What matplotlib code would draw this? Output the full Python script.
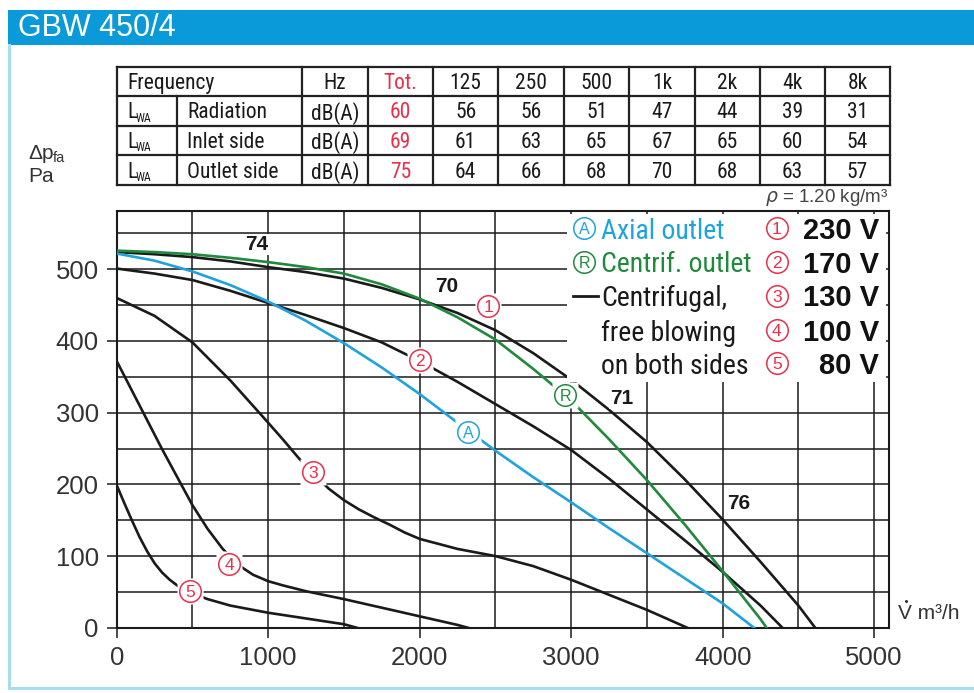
import matplotlib
matplotlib.use("Agg")
import matplotlib.pyplot as plt
from matplotlib.patches import Rectangle
from matplotlib.ticker import MultipleLocator
from matplotlib import font_manager as fm

plt.rcParams['font.family'] = ['Liberation Sans', 'DejaVu Sans']

# ---- pick a narrow font if one is installed
_avail = {_f.name for _f in fm.fontManager.ttflist}
NARROW = {'family': ['Liberation Sans', 'DejaVu Sans']}
NARROW_OK = False
for _name in ['Liberation Sans Narrow', 'Arial Narrow', 'Roboto Condensed',
              'Archivo Narrow', 'Open Sans Condensed']:
    if _name in _avail:
        NARROW = {'family': [_name, 'Liberation Sans', 'DejaVu Sans']}
        NARROW_OK = True
        break

# ------------------------------------------------------------------ data
title = "GBW 450/4"
col_header = ["125", "250", "500", "1k", "2k", "4k", "8k"]
row_names = ["Radiation", "Inlet side", "Outlet side"]
tot_vals = [60, 69, 75]
band_vals = [
    [56, 56, 51, 47, 44, 39, 31],
    [61, 63, 65, 67, 65, 60, 54],
    [64, 66, 68, 70, 68, 63, 57],
]

# free blowing (black) curves, 230/170/130/100/80 V
c1_x = [0, 250, 500, 750, 1000, 1250, 1500, 1750, 2000, 2250, 2500, 2750, 3000, 3250, 3500, 3750, 4000, 4250, 4500, 4611]
c1_y = [524, 521, 517, 511, 503, 496, 487, 474, 458, 439, 415, 383, 346, 304, 259, 207, 151, 92, 31, 0]
c2_x = [0, 250, 500, 750, 1000, 1250, 1500, 1750, 2000, 2250, 2500, 2750, 3000, 3250, 3500, 3750, 4000, 4250, 4395]
c2_y = [501, 494, 485, 470, 453, 436, 418, 398, 372, 343, 312, 281, 248, 208, 165, 122, 78, 31, 0]
c3_x = [0, 250, 500, 750, 1000, 1100, 1200, 1300, 1400, 1500, 1600, 1700, 1800, 1900, 2000, 2250, 2500, 2750, 3000, 3250, 3500, 3767]
c3_y = [460, 435, 398, 345, 286, 262, 237, 214, 194, 178, 165, 154, 144, 133, 124, 110, 100, 86, 67, 46, 25, 0]
c4_x = [0, 100, 200, 300, 400, 500, 600, 700, 800, 900, 1000, 1100, 1250, 1500, 1750, 2000, 2250, 2320]
c4_y = [372, 331, 290, 249, 210, 171, 138, 110, 88, 74, 65, 59, 51, 40, 28, 16, 4, 0]
c5_x = [0, 50, 100, 150, 200, 250, 300, 350, 400, 500, 600, 750, 1000, 1250, 1500, 1586]
c5_y = [199, 174, 150, 127, 107, 90, 77, 67, 59, 48, 40, 31, 21, 13, 5, 0]
# axial outlet (blue)
ax_x = [0, 250, 500, 750, 1000, 1250, 1500, 1750, 2000, 2250, 2500, 2750, 3000, 3250, 3500, 3750, 4000, 4207]
ax_y = [522, 512, 497, 478, 455, 428, 397, 363, 326, 286, 247, 210, 175, 139, 104, 69, 34, 0]
# centrifugal outlet (green)
cf_x = [0, 250, 500, 750, 1000, 1250, 1500, 1750, 2000, 2250, 2500, 2750, 3000, 3250, 3500, 3750, 4000, 4250, 4290]
cf_y = [526, 524, 521, 516, 510, 503, 494, 479, 459, 433, 402, 361, 317, 263, 206, 144, 79, 12, 0]

curve_tags = ["1", "2", "3", "4", "5"]
curve_tag_pos = [(2451, 449), (2002, 373), (1297, 217), (741, 89), (484, 51)]
voltages = ["230 V", "170 V", "130 V", "100 V", "80 V"]
sound_labels = ["74", "70", "71", "76"]
sound_pos = [(924, 534), (2178, 476), (3333, 320), (4103, 174)]
legend_left = ["Axial outlet", "Centrif. outlet", "Centrifugal,", "free blowing", "on both sides"]

BLUE = '#1fa3e0'
GREEN = '#1f8a3c'
RED = '#e8304a'
DARK = '#1a1a1a'

W, H = 974, 693
fig = plt.figure(figsize=(W / 100, H / 100), dpi=100)

# ------------------------------------------------------------------ main axes
L, R, T, B = 116.7, 889.3, 210.7, 627.8
ax = fig.add_axes([L / W, 1 - B / H, (R - L) / W, (B - T) / H])
ax.set_xlim(0, 5100)
ax.set_ylim(0, 581.7)
ax.xaxis.set_major_locator(MultipleLocator(1000))
ax.xaxis.set_minor_locator(MultipleLocator(500))
ax.yaxis.set_major_locator(MultipleLocator(100))
ax.yaxis.set_minor_locator(MultipleLocator(50))
ax.set_axisbelow(True)
ax.grid(which='both', color=DARK, lw=1.1)
ax.tick_params(which='major', direction='out', length=7, width=1.1, color=DARK,
               labelsize=18.5, labelcolor='#333333', pad=6)
ax.tick_params(which='minor', length=0)
for s in ax.spines.values():
    s.set_linewidth(1.5)
    s.set_color(DARK)

for xs, ys in [(c1_x, c1_y), (c2_x, c2_y), (c3_x, c3_y), (c4_x, c4_y), (c5_x, c5_y)]:
    ax.plot(xs, ys, color=DARK, lw=1.9, zorder=3, solid_joinstyle='round')
ax.plot(ax_x, ax_y, color=BLUE, lw=1.9, zorder=3, solid_joinstyle='round')
ax.plot(cf_x, cf_y, color=GREEN, lw=1.9, zorder=3, solid_joinstyle='round')


def tag(axis, x, y, txt, color, square=True, font=12.5):
    if square:
        axis.plot(x, y, marker='s', ms=19, mfc='white', mec='none', zorder=4)
    axis.plot(x, y, marker='o', ms=15.5, mfc='white', mec=color, mew=1.1, zorder=5)
    axis.text(x, y, txt, color=color, ha='center', va='center_baseline',
              fontsize=font, zorder=6)


for t, (x, y) in zip(curve_tags, curve_tag_pos):
    tag(ax, x, y, t, RED)
tag(ax, 2321, 273, "A", BLUE, font=11.5)
tag(ax, 2960, 325, "R", GREEN, font=11.5)

for t, (x, y) in zip(sound_labels, sound_pos):
    ax.text(x, y, t, ha='center', va='center', fontsize=15, fontweight='bold',
            color=DARK, zorder=6,
            bbox=dict(boxstyle='square,pad=0.05', fc='white', ec='none'))

# ------------------------------------------------------------------ overlay (pixel coords)
ov = fig.add_axes([0, 0, 1, 1], zorder=10)
ov.set_xlim(0, W)
ov.set_ylim(H, 0)
ov.axis('off')
ov.patch.set_alpha(0)

# header + frame
ov.add_patch(Rectangle((7.5, 10), W - 7.5, 35, fc='#0a9ad9', ec='none'))
ov.text(18, 28.5, title, color='white', fontsize=22, ha='left', va='center')
ov.plot([8.5, 8.5], [45, 687.5], color='#a9dbf3', lw=2.2)
ov.plot([8.5, W], [687.5, 687.5], color='#a9dbf3', lw=2.2)

# table
tx = [117.3, 302.3, 367.7, 433, 498.3, 564, 629.3, 695, 760, 825, 890]
ty = [66.7, 95.5, 125.5, 155, 185]
for y in ty:
    ov.plot([tx[0], tx[-1]], [y, y], color='#222222', lw=1.6, solid_capstyle='projecting')
for x in tx:
    ov.plot([x, x], [ty[0], ty[-1]], color='#222222', lw=1.6, solid_capstyle='projecting')
ov.plot([177.3, 177.3], [ty[1], ty[-1]], color='#222222', lw=1.6)

FS = 15.5 if NARROW_OK else 14
rc = [(ty[i] + ty[i + 1]) / 2 for i in range(4)]
ccx = [(tx[i] + tx[i + 1]) / 2 for i in range(len(tx) - 1)]
kw = dict(fontsize=FS, va='center_baseline', color=DARK, **NARROW)
ov.text(127, rc[0], "Frequency", **kw)
ov.text(ccx[1], rc[0], "Hz", ha='center', **kw)
ov.text(ccx[2], rc[0], "Tot.", ha='center', **{**kw, 'color': RED})
for j, h in enumerate(col_header):
    ov.text(ccx[3 + j], rc[0], h, ha='center', **kw)
for i in range(3):
    yc = rc[i + 1]
    ov.text(127, yc, "L", **kw)
    ov.text(135.5, yc + 6, "WA", **{**kw, 'fontsize': 8.5})
    ov.text(187, yc, row_names[i], **kw)
    ov.text(ccx[1], yc, "dB(A)", ha='center', **kw)
    ov.text(ccx[2], yc, str(tot_vals[i]), ha='center', **{**kw, 'color': RED})
    for j, v in enumerate(band_vals[i]):
        ov.text(ccx[3 + j], yc, str(v), ha='center', **kw)

ov.text(889, 197, r"$\rho$ = 1.20 kg/m³", fontsize=13.5, ha='right', va='center', color='#444444')

# axis titles
ov.text(28, 159, "Δp", fontsize=15, ha='left', va='baseline', color='#333333')
ov.text(53, 162, "fa", fontsize=10.5, ha='left', va='baseline', color='#333333')
ov.text(28, 182, "Pa", fontsize=15, ha='left', va='baseline', color='#333333')
ov.text(898, 619, "V m³/h", fontsize=15, ha='left', va='baseline', color='#333333')
ov.plot([905.5], [600.5], marker='o', ms=2.2, color='#333333', mec='none')

# legend box (hides grid & curves underneath)
ov.add_patch(Rectangle((567, 214), 886 - 567, 382 - 214, fc='white', ec='none'))
ly = [228.3, 261.7, 295.5, 330, 363.3]
tag(ov, 584.3, ly[0], "A", BLUE, square=False, font=11.5)
tag(ov, 584.3, ly[1], "R", GREEN, square=False, font=11.5)
ov.plot([573, 598], [ly[2], ly[2]], color=DARK, lw=2)
lcol = [BLUE, GREEN, DARK, DARK, DARK]
LFS = 20 if NARROW_OK else 16.5
for t, y, c in zip(legend_left, ly, lcol):
    ov.text(601, y, t, fontsize=LFS, ha='left', va='center_baseline', color=c, **NARROW)
for t, v, y in zip(curve_tags, voltages, ly):
    tag(ov, 776.7, y, t, RED, square=False)
    ov.text(879, y, v, fontsize=21, fontweight='bold', ha='right', va='center_baseline', color='#111111')

fig.savefig("out.png", dpi=100)
